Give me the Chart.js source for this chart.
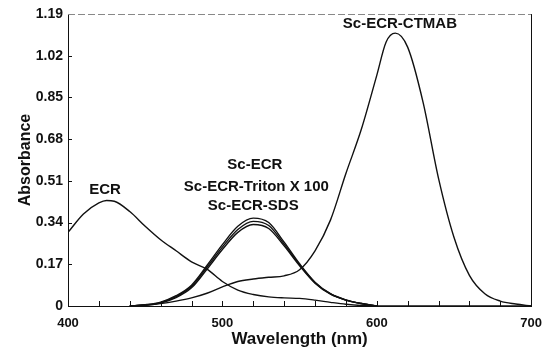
<!DOCTYPE html>
<html>
<head>
<meta charset="utf-8">
<script src="https://cdn.jsdelivr.net/npm/chart.js@4/dist/chart.umd.min.js"></script>
<style>
  html, body { margin: 0; padding: 0; background: #fff; }
  #wrap { width: 552px; height: 350px; }
</style>
</head>
<body>
<div id="wrap"><canvas id="myChart" width="552" height="350"></canvas></div>
<script>
// wavelengths (nm) and absorbance
var ecrNm   = [400,410,420,425,430,440,450,460,470,480,490,500,510,520,530,540,550,560,570,580,590,600,700];
var ecrAbs  = [0.30,0.375,0.42,0.43,0.427,0.385,0.325,0.27,0.225,0.18,0.15,0.10,0.065,0.047,0.037,0.033,0.031,0.024,0.015,0.007,0.002,0,0];

var scNm     = [440,450,460,470,480,490,500,510,520,530,540,550,560,570,580,590,600];
var scAbs    = [0,0.005,0.016,0.042,0.085,0.165,0.25,0.325,0.358,0.34,0.26,0.172,0.097,0.05,0.025,0.01,0];
var tritonAbs= [0,0.004,0.014,0.038,0.08,0.158,0.24,0.312,0.345,0.328,0.252,0.168,0.095,0.049,0.024,0.01,0];
var sdsAbs   = [0,0.003,0.012,0.034,0.074,0.15,0.23,0.30,0.332,0.316,0.245,0.164,0.093,0.048,0.024,0.01,0];

var ctmabNm  = [440,450,460,470,480,490,500,510,520,530,540,550,560,570,580,590,600,606,612,620,630,640,650,660,670,680,690,700];
var ctmabAbs = [0,0.004,0.01,0.02,0.033,0.052,0.078,0.10,0.11,0.117,0.123,0.148,0.225,0.35,0.54,0.72,0.94,1.075,1.112,1.055,0.83,0.52,0.28,0.125,0.05,0.02,0.008,0];

var xTicks = [400,420,440,460,480,500,520,540,560,580,600,620,640,660,680,700];
var yTicks = [0,0.17,0.34,0.51,0.68,0.85,1.02,1.19];

// curve labels: text, wavelength, absorbance
var labelText = ["ECR","Sc-ECR","Sc-ECR-Triton X 100","Sc-ECR-SDS","Sc-ECR-CTMAB"];
var labelNm   = [424,521,522,520,615];
var labelAbs  = [0.473,0.575,0.485,0.41,1.15];

function pts(xs, ys){ return xs.map(function(v,i){ return {x:v, y:ys[i]}; }); }

var FONT = "'Liberation Sans', Arial, sans-serif";

function line(d){
  return { data: d, borderColor: '#111', borderWidth: 1.4, pointRadius: 0, fill: false,
           cubicInterpolationMode: 'monotone' };
}

var frame = {
  id: 'frame',
  afterDraw: function(chart){
    var ctx = chart.ctx, a = chart.chartArea, x = chart.scales.x, y = chart.scales.y;
    ctx.save();
    ctx.strokeStyle = '#111';
    ctx.lineWidth = 1;
    ctx.beginPath();
    xTicks.forEach(function(v){
      var px = Math.round(x.getPixelForValue(v)) + 0.5;
      ctx.moveTo(px, a.bottom); ctx.lineTo(px, a.bottom - 5);
    });
    yTicks.forEach(function(v){
      var py = Math.round(y.getPixelForValue(v)) + 0.5;
      ctx.moveTo(a.left, py); ctx.lineTo(a.left + 4, py);
    });
    ctx.moveTo(Math.round(a.right) + 0.5, a.top);
    ctx.lineTo(Math.round(a.right) + 0.5, a.bottom);
    ctx.stroke();
    ctx.strokeStyle = '#888';
    ctx.setLineDash([7,3]);
    ctx.beginPath();
    ctx.moveTo(a.left, Math.round(a.top) + 0.5);
    ctx.lineTo(a.right, Math.round(a.top) + 0.5);
    ctx.stroke();
    ctx.setLineDash([]);
    // curve labels
    ctx.fillStyle = '#111';
    ctx.textAlign = 'center';
    ctx.textBaseline = 'middle';
    ctx.font = 'bold 15px ' + FONT;
    labelText.forEach(function(t,i){
      ctx.fillText(t, x.getPixelForValue(labelNm[i]), y.getPixelForValue(labelAbs[i]));
    });
    ctx.restore();
  }
};

var charts = document.querySelector("#myChart").getContext('2d');
new Chart(charts, {
  type: 'line',
  data: {
    datasets: [
      line(pts(ecrNm, ecrAbs)),
      line(pts(scNm, scAbs)),
      line(pts(scNm, tritonAbs)),
      line(pts(scNm, sdsAbs)),
      line(pts(ctmabNm, ctmabAbs))
    ]
  },
  options: {
    responsive: false,
    animation: false,
    layout: { padding: { top: 14, right: 14, left: 0, bottom: 0 } },
    plugins: { legend: { display: false }, tooltip: { enabled: false } },
    scales: {
      x: {
        type: 'linear', min: 400, max: 700,
        afterBuildTicks: function(s){ s.ticks = xTicks.map(function(v){ return {value:v}; }); },
        afterFit: function(s){ s.height = 44; },
        grid: { display: false, drawTicks: false },
        border: { display: true, color: '#111', width: 1 },
        ticks: { color: '#111', padding: 10, maxRotation: 0, autoSkip: false,
                 font: { family: FONT, size: 13, weight: 'bold' },
                 callback: function(v){ return v % 100 === 0 ? String(v) : ''; } },
        title: { display: true, text: 'Wavelength (nm)', color: '#111', padding: 0,
                 font: { family: FONT, size: 17, weight: 'bold' } }
      },
      y: {
        min: 0, max: 1.19,
        afterBuildTicks: function(s){ s.ticks = yTicks.map(function(v){ return {value:v}; }); },
        afterFit: function(s){ s.width = 68; },
        grid: { display: false, drawTicks: false },
        border: { display: true, color: '#111', width: 1 },
        ticks: { color: '#111', padding: 5, autoSkip: false,
                 font: { family: FONT, size: 14, weight: 'bold' },
                 callback: function(v){ return v === 0 ? '0' : v.toFixed(2); } },
        title: { display: true, text: 'Absorbance', color: '#111', padding: { top: 16 },
                 font: { family: FONT, size: 16, weight: 'bold' } }
      }
    }
  },
  plugins: [frame]
});
</script>
</body>
</html>
